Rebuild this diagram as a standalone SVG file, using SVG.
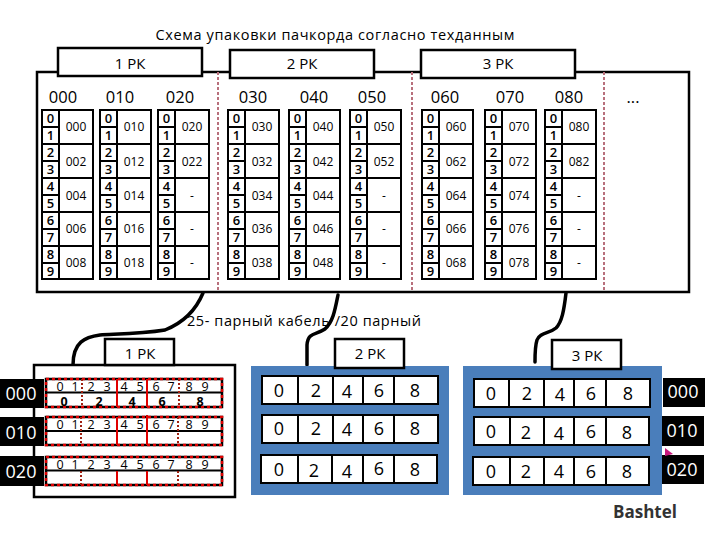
<svg xmlns="http://www.w3.org/2000/svg" width="720" height="540" viewBox="0 0 720 540">
<style>
text{font-family:"Open Sans","Liberation Sans",sans-serif;fill:#000;text-anchor:middle}
.box{fill:#fff;stroke:#000;stroke-width:2.5}
.thin{fill:#fff;stroke:#000;stroke-width:2}
.blue{fill:#4a7ebb}
.t{font-size:14.5px}
.h{font-size:15px}
.hh{font-size:16.5px}
.d{font-size:13px;font-weight:600}
.v{font-size:12px}
.n{font-size:12.5px}
.b{font-size:12.5px;font-weight:700}
.c{font-size:18px}
.k{font-size:18px;fill:#fff}
.cable{fill:none;stroke:#000;stroke-width:3.5;stroke-linecap:round}
.pink{stroke:#b8707c;stroke-width:2;stroke-dasharray:3 2;fill:none}
.red{stroke:#e00000;stroke-width:2;fill:none}
.dot{stroke:#a02010;stroke-width:2;stroke-dasharray:2 2;fill:none}
.rb{fill:#fff;stroke:#000;stroke-width:2.5}
.rr{fill:none;stroke:#e00000;stroke-width:2.5;stroke-dasharray:3 3}
.g{fill:none;stroke:#000;stroke-width:2}
</style>
<defs>
<path id="grid" class="g" d="M0 110H51V279H0ZM17 110V279M0 127H17M0 144H51M0 161H17M0 178H51M0 195H17M0 212H51M0 229H17M0 246H51M0 263H17"/>
</defs>

<text class="t" x="335" y="40" textLength="359" lengthAdjust="spacing">Схема упаковки пачкорда согласно техданным</text>

<rect id="outer" x="37" y="72" width="652" height="220" fill="#fff" stroke="#000" stroke-width="2.5"/>
<path class="pink" d="M218 72V292M412 72V292M604 72V292"/>

<g id="tab1"><rect class="box" x="58" y="48" width="144" height="28"/><text class="h" x="130" y="69">1 РК</text></g>
<g id="tab2"><rect class="box" x="230" y="50" width="144" height="28"/><text class="h" x="302" y="69">2 РК</text></g>
<g id="tab3"><rect class="box" x="421" y="50" width="154" height="28"/><text class="h" x="498" y="69">3 РК</text></g>

<g id="heads">
<text class="hh" x="63" y="103">000</text><text class="hh" x="120" y="103">010</text><text class="hh" x="180" y="103">020</text>
<text class="hh" x="253" y="103">030</text><text class="hh" x="314" y="103">040</text><text class="hh" x="372" y="103">050</text>
<text class="hh" x="445" y="103">060</text><text class="hh" x="510" y="103">070</text><text class="hh" x="569" y="103">080</text>
<text class="hh" x="633" y="103">...</text>
</g>

<g id="t000" transform="translate(42 0)"><use href="#grid"/>
<text class="d" x="8.5" y="123">0</text><text class="d" x="8.5" y="140">1</text><text class="d" x="8.5" y="157">2</text><text class="d" x="8.5" y="174">3</text><text class="d" x="8.5" y="191">4</text><text class="d" x="8.5" y="208">5</text><text class="d" x="8.5" y="225">6</text><text class="d" x="8.5" y="242">7</text><text class="d" x="8.5" y="259">8</text><text class="d" x="8.5" y="276">9</text>
<text class="v" x="34" y="131">000</text><text class="v" x="34" y="166">002</text><text class="v" x="34" y="200">004</text><text class="v" x="34" y="233">006</text><text class="v" x="34" y="267">008</text></g>
<g id="t010" transform="translate(100 0)"><use href="#grid"/>
<text class="d" x="8.5" y="123">0</text><text class="d" x="8.5" y="140">1</text><text class="d" x="8.5" y="157">2</text><text class="d" x="8.5" y="174">3</text><text class="d" x="8.5" y="191">4</text><text class="d" x="8.5" y="208">5</text><text class="d" x="8.5" y="225">6</text><text class="d" x="8.5" y="242">7</text><text class="d" x="8.5" y="259">8</text><text class="d" x="8.5" y="276">9</text>
<text class="v" x="34" y="131">010</text><text class="v" x="34" y="166">012</text><text class="v" x="34" y="200">014</text><text class="v" x="34" y="233">016</text><text class="v" x="34" y="267">018</text></g>
<g id="t020" transform="translate(158 0)"><use href="#grid"/>
<text class="d" x="8.5" y="123">0</text><text class="d" x="8.5" y="140">1</text><text class="d" x="8.5" y="157">2</text><text class="d" x="8.5" y="174">3</text><text class="d" x="8.5" y="191">4</text><text class="d" x="8.5" y="208">5</text><text class="d" x="8.5" y="225">6</text><text class="d" x="8.5" y="242">7</text><text class="d" x="8.5" y="259">8</text><text class="d" x="8.5" y="276">9</text>
<text class="v" x="34" y="131">020</text><text class="v" x="34" y="166">022</text><text class="v" x="34" y="200">-</text><text class="v" x="34" y="233">-</text><text class="v" x="34" y="267">-</text></g>
<g id="t030" transform="translate(228 0)"><use href="#grid"/>
<text class="d" x="8.5" y="123">0</text><text class="d" x="8.5" y="140">1</text><text class="d" x="8.5" y="157">2</text><text class="d" x="8.5" y="174">3</text><text class="d" x="8.5" y="191">4</text><text class="d" x="8.5" y="208">5</text><text class="d" x="8.5" y="225">6</text><text class="d" x="8.5" y="242">7</text><text class="d" x="8.5" y="259">8</text><text class="d" x="8.5" y="276">9</text>
<text class="v" x="34" y="131">030</text><text class="v" x="34" y="166">032</text><text class="v" x="34" y="200">034</text><text class="v" x="34" y="233">036</text><text class="v" x="34" y="267">038</text></g>
<g id="t040" transform="translate(289 0)"><use href="#grid"/>
<text class="d" x="8.5" y="123">0</text><text class="d" x="8.5" y="140">1</text><text class="d" x="8.5" y="157">2</text><text class="d" x="8.5" y="174">3</text><text class="d" x="8.5" y="191">4</text><text class="d" x="8.5" y="208">5</text><text class="d" x="8.5" y="225">6</text><text class="d" x="8.5" y="242">7</text><text class="d" x="8.5" y="259">8</text><text class="d" x="8.5" y="276">9</text>
<text class="v" x="34" y="131">040</text><text class="v" x="34" y="166">042</text><text class="v" x="34" y="200">044</text><text class="v" x="34" y="233">046</text><text class="v" x="34" y="267">048</text></g>
<g id="t050" transform="translate(350 0)"><use href="#grid"/>
<text class="d" x="8.5" y="123">0</text><text class="d" x="8.5" y="140">1</text><text class="d" x="8.5" y="157">2</text><text class="d" x="8.5" y="174">3</text><text class="d" x="8.5" y="191">4</text><text class="d" x="8.5" y="208">5</text><text class="d" x="8.5" y="225">6</text><text class="d" x="8.5" y="242">7</text><text class="d" x="8.5" y="259">8</text><text class="d" x="8.5" y="276">9</text>
<text class="v" x="34" y="131">050</text><text class="v" x="34" y="166">052</text><text class="v" x="34" y="200">-</text><text class="v" x="34" y="233">-</text><text class="v" x="34" y="267">-</text></g>
<g id="t060" transform="translate(422 0)"><use href="#grid"/>
<text class="d" x="8.5" y="123">0</text><text class="d" x="8.5" y="140">1</text><text class="d" x="8.5" y="157">2</text><text class="d" x="8.5" y="174">3</text><text class="d" x="8.5" y="191">4</text><text class="d" x="8.5" y="208">5</text><text class="d" x="8.5" y="225">6</text><text class="d" x="8.5" y="242">7</text><text class="d" x="8.5" y="259">8</text><text class="d" x="8.5" y="276">9</text>
<text class="v" x="34" y="131">060</text><text class="v" x="34" y="166">062</text><text class="v" x="34" y="200">064</text><text class="v" x="34" y="233">066</text><text class="v" x="34" y="267">068</text></g>
<g id="t070" transform="translate(485 0)"><use href="#grid"/>
<text class="d" x="8.5" y="123">0</text><text class="d" x="8.5" y="140">1</text><text class="d" x="8.5" y="157">2</text><text class="d" x="8.5" y="174">3</text><text class="d" x="8.5" y="191">4</text><text class="d" x="8.5" y="208">5</text><text class="d" x="8.5" y="225">6</text><text class="d" x="8.5" y="242">7</text><text class="d" x="8.5" y="259">8</text><text class="d" x="8.5" y="276">9</text>
<text class="v" x="34" y="131">070</text><text class="v" x="34" y="166">072</text><text class="v" x="34" y="200">074</text><text class="v" x="34" y="233">076</text><text class="v" x="34" y="267">078</text></g>
<g id="t080" transform="translate(545 0)"><use href="#grid"/>
<text class="d" x="8.5" y="123">0</text><text class="d" x="8.5" y="140">1</text><text class="d" x="8.5" y="157">2</text><text class="d" x="8.5" y="174">3</text><text class="d" x="8.5" y="191">4</text><text class="d" x="8.5" y="208">5</text><text class="d" x="8.5" y="225">6</text><text class="d" x="8.5" y="242">7</text><text class="d" x="8.5" y="259">8</text><text class="d" x="8.5" y="276">9</text>
<text class="v" x="34" y="131">080</text><text class="v" x="34" y="166">082</text><text class="v" x="34" y="200">-</text><text class="v" x="34" y="233">-</text><text class="v" x="34" y="267">-</text></g>

<text class="t" x="304" y="326" textLength="234" lengthAdjust="spacing">25- парный кабель /20 парный</text>

<g id="connectors">
<path class="cable" d="M203 293C196 310 185 322 165 330C140 334 115 334 100 335C85 337 73 342 73 365"/>
<path class="cable" d="M338 295C335 310 333 322 325 329C316 335 308 332 307 345V365"/>
<path class="cable" d="M566 293C564 310 562 322 556 328C549 334 540 332 537 340C535 346 535 352 535 362"/>
</g>

<g id="panel1">
<rect class="box" x="34" y="365" width="201" height="132"/>
<rect x="0" y="379" width="44" height="29" fill="#000"/><text class="k" x="21" y="400">000</text>
<rect x="0" y="417" width="44" height="29" fill="#000"/><text class="k" x="21" y="439">010</text>
<rect x="0" y="456" width="44" height="30" fill="#000"/><text class="k" x="21" y="478">020</text>
<g id="row000">
<rect class="rb" x="46" y="379" width="176" height="28"/><path class="g" d="M46 392.500H222"/><rect class="rr" x="46" y="379" width="176" height="28"/>
<path class="dot" d="M82 379V407M179 379V407"/><path class="red" d="M117 379V407M147 379V407"/>
<text class="n" x="60" y="391">0</text><text class="n" x="75" y="391">1</text><text class="n" x="91" y="391">2</text><text class="n" x="107" y="391">3</text><text class="n" x="124" y="391">4</text><text class="n" x="140" y="391">5</text><text class="n" x="156" y="391">6</text><text class="n" x="171" y="391">7</text><text class="n" x="189" y="391">8</text><text class="n" x="205" y="391">9</text>
<text class="b" x="64" y="406">0</text><text class="b" x="99" y="406">2</text><text class="b" x="132" y="406">4</text><text class="b" x="162" y="406">6</text><text class="b" x="200" y="406">8</text>
</g>
<g id="row010">
<rect class="rb" x="46" y="417" width="176" height="28"/><path class="g" d="M46 431H222"/><rect class="rr" x="46" y="417" width="176" height="28"/>
<path class="dot" d="M81 417V445M178 417V445"/><path class="red" d="M117 417V445M147 415V445"/>
<text class="n" x="60" y="429">0</text><text class="n" x="75" y="429">1</text><text class="n" x="91" y="429">2</text><text class="n" x="107" y="429">3</text><text class="n" x="124" y="429">4</text><text class="n" x="140" y="429">5</text><text class="n" x="156" y="429">6</text><text class="n" x="171" y="429">7</text><text class="n" x="189" y="429">8</text><text class="n" x="205" y="429">9</text>
</g>
<g id="row020">
<rect class="rb" x="46" y="457" width="176" height="28"/><path class="g" d="M46 470.500H222"/><rect class="rr" x="46" y="457" width="176" height="28"/>
<path class="dot" d="M81 471V485M178 471V485"/><path class="red" d="M117 471V485M147 471V485"/>
<text class="n" x="60" y="469">0</text><text class="n" x="75" y="469">1</text><text class="n" x="91" y="469">2</text><text class="n" x="107" y="469">3</text><text class="n" x="124" y="469">4</text><text class="n" x="140" y="469">5</text><text class="n" x="156" y="469">6</text><text class="n" x="171" y="469">7</text><text class="n" x="189" y="469">8</text><text class="n" x="205" y="469">9</text>
</g>
</g>
<g id="tabB1"><rect class="box" x="105" y="339" width="69" height="26"/><text class="h" x="140" y="359">1 РК</text></g>

<g id="panel2">
<rect class="blue" x="251" y="366" width="198" height="129"/>
<g id="p2r1"><rect class="thin" x="262" y="376" width="176" height="28"/><path class="g" d="M298 376V404M333 376V404M363 376V404M394 376V404"/>
<text class="c" x="279" y="397">0</text><text class="c" x="316" y="397">2</text><text class="c" x="347" y="398">4</text><text class="c" x="379" y="397">6</text><text class="c" x="415" y="397">8</text></g>
<g id="p2r2"><rect class="thin" x="262" y="415" width="176" height="28"/><path class="g" d="M298 415V443M333 415V443M363 415V443M394 415V443"/>
<text class="c" x="279" y="435">0</text><text class="c" x="316" y="435">2</text><text class="c" x="347" y="436">4</text><text class="c" x="379" y="435">6</text><text class="c" x="415" y="435">8</text></g>
<g id="p2r3"><rect class="thin" x="261" y="455" width="176" height="28"/><path class="g" d="M298 455V483M332 455V483M363 455V483M394 455V483"/>
<text class="c" x="279" y="476">0</text><text class="c" x="314" y="477">2</text><text class="c" x="347" y="478">4</text><text class="c" x="379" y="475">6</text><text class="c" x="415" y="476">8</text></g>
</g>
<g id="tabB2"><rect class="box" x="335" y="339" width="69" height="29"/><text class="h" x="370" y="359">2 РК</text></g>

<g id="panel3">
<rect class="blue" x="463" y="366" width="199" height="129"/>
<g id="p3r1"><rect class="thin" x="474" y="379" width="176" height="28"/><path class="g" d="M509 379V407M544 379V407M574 379V407M606 379V407"/>
<text class="c" x="491" y="400">0</text><text class="c" x="527" y="400">2</text><text class="c" x="560" y="401">4</text><text class="c" x="591" y="400">6</text><text class="c" x="628" y="400">8</text></g>
<g id="p3r2"><rect class="thin" x="474" y="417" width="175" height="28"/><path class="g" d="M510 417V445M544 417V445M574 417V445M606 417V445"/>
<text class="c" x="491" y="438">0</text><text class="c" x="526" y="439">2</text><text class="c" x="559" y="440">4</text><text class="c" x="591" y="438">6</text><text class="c" x="627" y="439">8</text></g>
<g id="p3r3"><rect class="thin" x="473" y="457" width="176" height="28"/><path class="g" d="M510 457V485M544 457V485M574 457V485M606 457V485"/>
<text class="c" x="491" y="478">0</text><text class="c" x="526" y="478">2</text><text class="c" x="559" y="478">4</text><text class="c" x="591" y="478">6</text><text class="c" x="627" y="478">8</text></g>
</g>
<g id="tabB3"><rect class="box" x="552" y="340" width="69" height="29"/><text class="h" x="587" y="361">3 РК</text></g>

<g id="labelsR">
<rect x="663" y="378" width="42" height="29" fill="#000"/><text class="k" x="683" y="398">000</text>
<rect x="662" y="416" width="42" height="30" fill="#000"/><text class="k" x="682" y="437">010</text>
<rect x="662" y="455" width="42" height="29" fill="#000"/><text class="k" x="682" y="476">020</text>
</g>
<path d="M665 448L673 454L665 456Z" fill="#c8187c"/>
<text x="645" y="518" style="font-size:18px;font-weight:700;fill:#333" textLength="64" lengthAdjust="spacingAndGlyphs">Bashtel</text>
</svg>
